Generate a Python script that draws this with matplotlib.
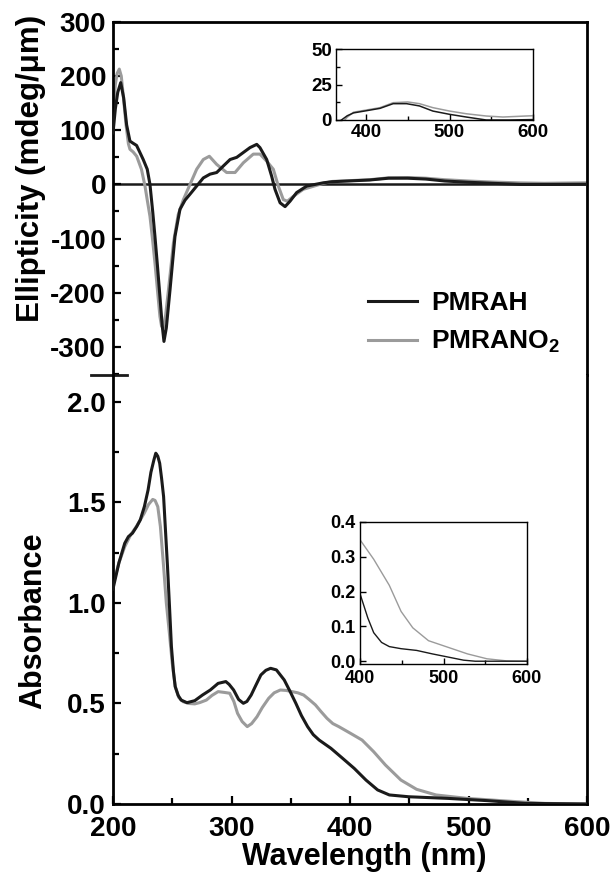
import matplotlib
matplotlib.use("Agg")
import matplotlib.pyplot as plt
from matplotlib import font_manager
from matplotlib.ticker import MultipleLocator

# fonts
names = {f.name for f in font_manager.fontManager.ttflist}
tick_family = 'Liberation Sans Narrow' if 'Liberation Sans Narrow' in names else 'Liberation Sans'
plt.rcParams['font.family'] = ['Liberation Sans', 'DejaVu Sans']
plt.rcParams['font.weight'] = 'bold'
plt.rcParams['mathtext.fontset'] = 'custom'
plt.rcParams['mathtext.rm'] = 'Liberation Sans:bold'
plt.rcParams['mathtext.default'] = 'rm'
plt.rcParams['axes.unicode_minus'] = False

BLACK = '#1a1a1a'
GRAY = '#9b9b9b'

#%% CD spectra (mdeg/um)
cd_nm_pmrah = [200, 202, 204, 206.5, 209, 211.5, 214.3, 217, 219.9, 222.5, 225.5, 228.9,
               231.2, 233.5, 235.4, 237.5, 239.6, 241.5, 243, 245, 248.1, 250, 252.3,
               256.5, 260.8, 265, 270.6, 276.2, 281.9, 287.5, 293.1, 298.8, 304.4, 310,
               315.6, 321.3, 324, 329.7, 333.9, 336.7, 341, 345.2, 349.4, 355, 363.5,
               377.5, 385, 400, 416.7, 432.5, 448.5, 464, 480, 500, 520, 544, 571, 600]
cd_pmrah = [95, 140, 170, 188, 160, 110, 80, 76, 72, 60, 46, 28,
            0, -50, -96, -150, -207, -260, -290, -265, -195, -150, -96,
            -46, -29, -18, -3, 12, 19, 22, 34, 46, 50, 59,
            68, 74, 68, 46, 15, -9, -34, -41, -31, -15, -3,
            3, 5, 6.5, 8.2, 11.5, 11.5, 9.9, 6.3, 4, 2.1, 0, 0, 0.3]

cd_nm_pmrano2 = [200, 202, 203.5, 205.3, 207, 208.7, 211, 213, 214.3, 217, 220, 222, 224,
                 227, 229, 231.2, 233.3, 235.4, 237.5, 239.6, 241, 242.5, 244.5, 246.8,
                 249, 251, 255, 259.4, 265, 270.6, 276.2, 281.3, 287.5, 295.9, 303, 310,
                 318.4, 324, 329.7, 335.3, 339.5, 343.7, 347.1, 352.2, 360.6, 377.5, 385,
                 400, 416.7, 432.5, 450, 464, 480, 500, 520, 544, 564, 591, 600]
cd_pmrano2 = [130, 185, 205, 213, 200, 163, 110, 75, 65, 60, 52, 40, 28,
              -3, -30, -59, -100, -145, -195, -244, -262, -265, -240, -195,
              -150, -108, -56, -28, 0, 28, 46, 52, 37, 22, 22, 40,
              56, 56, 43, 28, -3, -28, -31, -22, -9, 2, 5.5,
              7, 8.7, 12.2, 12.7, 11.5, 8.7, 6.3, 4.4, 2.8, 2.1, 2.8, 3]

#%% UV-vis absorbance
abs_nm_pmrah = [200, 205, 209.9, 213, 216.4, 220, 223, 226.5, 229.6, 232, 234.5, 236.1,
                237.8, 239.4, 241, 242.7, 244.3, 246, 247.7, 249.3, 251, 252.5, 255,
                257.5, 262.4, 269, 275.5, 282.1, 288.7, 295.2, 298, 301.8, 306, 310,
                313, 316.6, 320.5, 324.8, 329, 333, 337.9, 344.5, 349, 354.3, 359,
                364.2, 369, 374, 383.9, 393.8, 403.6, 413.5, 423.3, 433.2, 449.6,
                482.4, 515, 548, 600]
abs_pmrah = [1.07, 1.2, 1.297, 1.33, 1.347, 1.38, 1.413, 1.48, 1.562, 1.65, 1.711, 1.745,
             1.73, 1.695, 1.62, 1.529, 1.36, 1.181, 0.98, 0.783, 0.66, 0.584, 0.54,
             0.517, 0.504, 0.514, 0.542, 0.567, 0.600, 0.609, 0.595, 0.567, 0.52, 0.501,
             0.51, 0.542, 0.59, 0.642, 0.665, 0.675, 0.667, 0.617, 0.565, 0.501, 0.44,
             0.385, 0.345, 0.318, 0.277, 0.227, 0.177, 0.119, 0.070, 0.045, 0.036,
             0.028, 0.017, 0.003, 0.0]

abs_nm_pmrano2 = [200, 205, 209.9, 215, 219.7, 226.3, 230, 233.5, 235.5, 237.8, 240,
                  242.7, 245, 247.6, 250, 252.5, 255.5, 259.1, 264, 269, 273.5, 278.8,
                  283.5, 288.7, 294, 298.5, 302, 305.1, 309, 313.3, 317, 321.5, 326,
                  331.4, 336, 341.2, 346, 351.1, 356, 360.9, 365.5, 370.8, 375.5, 380.6,
                  385.5, 390.5, 400.3, 410.2, 420, 429.9, 443, 456.2, 472.6, 498.8,
                  531.7, 564.5, 600]
abs_pmrano2 = [1.09, 1.2, 1.28, 1.34, 1.38, 1.446, 1.49, 1.515, 1.51, 1.479, 1.38,
               1.181, 1.0, 0.849, 0.70, 0.584, 0.53, 0.509, 0.50, 0.498, 0.505, 0.517,
               0.54, 0.559, 0.555, 0.551, 0.51, 0.451, 0.41, 0.385, 0.40, 0.434, 0.48,
               0.526, 0.553, 0.567, 0.565, 0.559, 0.553, 0.542, 0.52, 0.493, 0.46, 0.426,
               0.40, 0.385, 0.352, 0.318, 0.260, 0.194, 0.119, 0.073, 0.045, 0.028,
               0.015, 0.003, 0.0]

# visible region, measured separately
vis_nm_pmrah = [400, 409.4, 416.4, 425.8, 435.1, 449.2, 467.9, 486.7, 505.4, 524, 538, 600]
vis_pmrah = [0.194, 0.124, 0.082, 0.054, 0.042, 0.036, 0.031, 0.021, 0.012, 0.003, 0.0, 0.0]
vis_nm_pmrano2 = [400, 416.4, 435.1, 449.2, 463.2, 482, 505.4, 528.8, 552, 575.6, 600]
vis_pmrano2 = [0.349, 0.293, 0.218, 0.143, 0.096, 0.059, 0.040, 0.021, 0.007, 0.001, 0.0]

W, H = 611, 877
fig = plt.figure(figsize=(W / 100, H / 100), dpi=100)

x0, x1 = 113 / W, 587 / W
ax_cd = fig.add_axes([x0, 1 - 375 / H, x1 - x0, (375 - 22) / H])
ax_ab = fig.add_axes([x0, 1 - 804 / H, x1 - x0, (804 - 375) / H])

def style(ax, size=20, major=6, minor=4.3, width=1.6):
    ax.tick_params(which='both', direction='in', width=width, labelsize=size,
                   labelfontfamily=tick_family, pad=5)
    ax.tick_params(which='major', length=major)
    ax.tick_params(which='minor', length=minor)
    for sp in ax.spines.values():
        sp.set_linewidth(2)

# top: CD
ax_cd.plot(cd_nm_pmrah, cd_pmrah, color=BLACK, lw=2.2, label='PMRAH', zorder=3)
ax_cd.plot(cd_nm_pmrano2, cd_pmrano2, color=GRAY, lw=2.2, label='PMRANO$_2$', zorder=2)
ax_cd.axhline(0, color=BLACK, lw=1.8, zorder=1)
ax_cd.set_xlim(200, 600)
ax_cd.set_ylim(-352, 300)
ax_cd.yaxis.set_major_locator(MultipleLocator(100))
ax_cd.yaxis.set_minor_locator(MultipleLocator(50))
style(ax_cd)
ax_cd.tick_params(axis='x', which='both', bottom=False, labelbottom=False)
ax_cd.spines['bottom'].set_visible(False)
leg = ax_cd.legend(loc='center left', bbox_to_anchor=(0.538, 0.147), frameon=False,
                   fontsize=19, handlelength=1.86, handletextpad=0.53,
                   labelspacing=0.55, borderpad=0, borderaxespad=0)
for t in leg.get_texts():
    t.set_fontweight('bold')

# bottom: absorbance
ax_ab.plot(abs_nm_pmrah, abs_pmrah, color=BLACK, lw=2.2, zorder=3)
ax_ab.plot(abs_nm_pmrano2, abs_pmrano2, color=GRAY, lw=2.2, zorder=2)
ax_ab.set_xlim(200, 600)
ax_ab.set_ylim(0, 2.134)
ax_ab.xaxis.set_major_locator(MultipleLocator(100))
ax_ab.xaxis.set_minor_locator(MultipleLocator(50))
ax_ab.yaxis.set_major_locator(MultipleLocator(0.5))
ax_ab.yaxis.set_minor_locator(MultipleLocator(0.25))
ax_ab.yaxis.set_major_formatter('{x:.1f}')
style(ax_ab)
ax_ab.tick_params(axis='x', pad=8.5)
ax_ab.spines['top'].set_visible(False)

# axis break mark
ax_ab.plot([-0.046, 0.030], [1, 1], transform=ax_ab.transAxes, color=BLACK,
           lw=2, clip_on=False)

fig.text(31 / W, 1 - 168 / H, 'Ellipticity (mdeg/μm)', rotation=90, fontsize=22.5,
         fontweight='bold', ha='center', va='center')
fig.text(33 / W, 1 - 621 / H, 'Absorbance', rotation=90, fontsize=22,
         fontweight='bold', ha='center', va='center')
fig.text(364 / W, 1 - 857 / H, 'Wavelength (nm)', fontsize=22,
         fontweight='bold', ha='center', va='center')

# inset: CD in the visible
ins_cd = fig.add_axes([336 / W, 1 - 120 / H, (533 - 336) / W, (120 - 49) / H])
ins_cd.plot(cd_nm_pmrano2, cd_pmrano2, color=GRAY, lw=1.1)
ins_cd.plot(cd_nm_pmrah, cd_pmrah, color=BLACK, lw=1.1)
ins_cd.set_xlim(364, 600)
ins_cd.set_ylim(0, 50)
ins_cd.xaxis.set_major_locator(MultipleLocator(100))
ins_cd.xaxis.set_minor_locator(MultipleLocator(50))
ins_cd.yaxis.set_major_locator(MultipleLocator(25))
ins_cd.yaxis.set_minor_locator(MultipleLocator(12.5))
style(ins_cd, size=13.5, major=4, minor=3, width=1)
ins_cd.tick_params(pad=3)
for sp in ins_cd.spines.values():
    sp.set_linewidth(1)

# inset: absorbance in the visible
ins_ab = fig.add_axes([360 / W, 1 - 664 / H, (527 - 360) / W, (664 - 522) / H])
ins_ab.plot(vis_nm_pmrano2, vis_pmrano2, color=GRAY, lw=1.0)
ins_ab.plot(vis_nm_pmrah, vis_pmrah, color=BLACK, lw=1.0)
ins_ab.set_xlim(400, 600)
ins_ab.set_ylim(-0.008, 0.4)
ins_ab.xaxis.set_major_locator(MultipleLocator(100))
ins_ab.xaxis.set_minor_locator(MultipleLocator(50))
ins_ab.yaxis.set_major_locator(MultipleLocator(0.1))
ins_ab.yaxis.set_major_formatter('{x:.1f}')
style(ins_ab, size=13, major=4, minor=3, width=1)
ins_ab.tick_params(pad=3)
ins_ab.tick_params(axis='x', pad=4)
for sp in ins_ab.spines.values():
    sp.set_linewidth(1)

fig.savefig('out.png', dpi=100)
